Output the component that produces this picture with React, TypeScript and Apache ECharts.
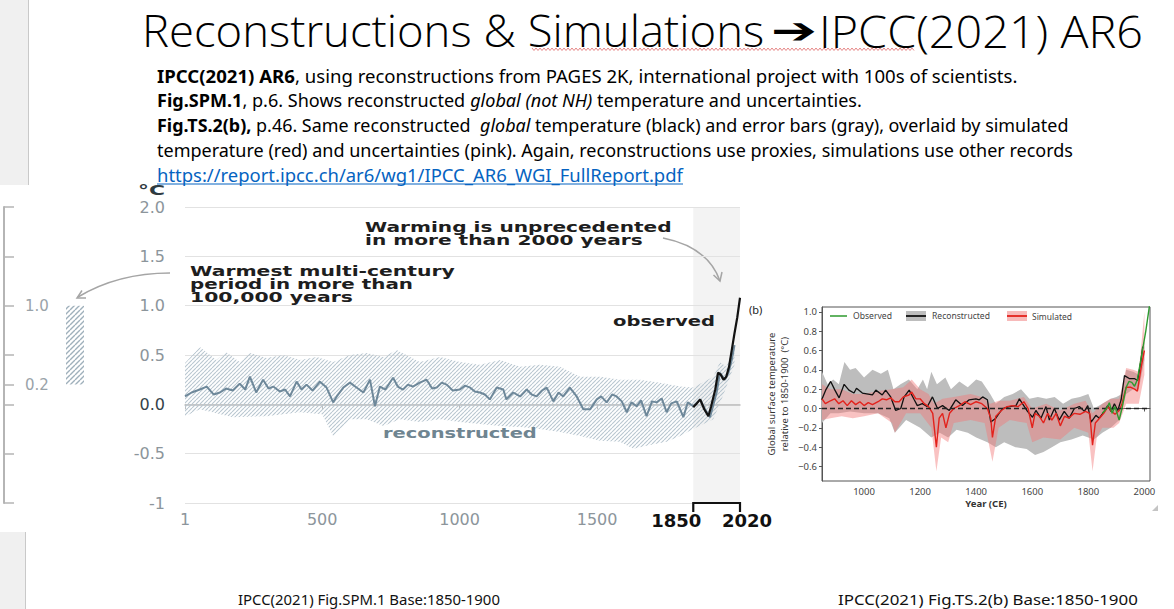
import React, { useEffect, useRef } from 'react';
import * as echarts from 'echarts';

// ---------------- Text content ----------------
const titleLeft = 'Reconstructions & Simulations';
const titleArrow = '➔';
const titleRight = 'IPCC(2021) AR6';

type Seg = [string, 'n' | 'b' | 'i'];
const paragraphLines: Seg[][] = [
  [['IPCC(2021) AR6', 'b'], [', using reconstructions from PAGES 2K, international project with 100s of scientists.', 'n']],
  [['Fig.SPM.1', 'b'], [', p.6. Shows reconstructed ', 'n'], ['global (not NH)', 'i'], [' temperature and uncertainties.', 'n']],
  [['Fig.TS.2(b),', 'b'], [' p.46. Same reconstructed  ', 'n'], ['global', 'i'], [' temperature (black) and error bars (gray), overlaid by simulated', 'n']],
  [['temperature (red) and uncertainties (pink). Again, reconstructions use proxies, simulations use other records', 'n']],
];
const linkText = 'https://report.ipcc.ch/ar6/wg1/IPCC_AR6_WGI_FullReport.pdf';
const captionSpm = 'IPCC(2021) Fig.SPM.1 Base:1850-1900';
const captionTs = 'IPCC(2021) Fig.TS.2(b) Base:1850-1900';
const noteWarmest = ['Warmest multi-century', 'period in more than', '100,000 years'];
const noteWarming = ['Warming is unprecedented', 'in more than 2000 years'];
const labelObserved = 'observed';
const labelReconstructed = 'reconstructed';
const tsLegend = ['Observed', 'Reconstructed', 'Simulated'];
const tsYName = 'Global surface temperature\nrelative to 1850-1900  (°C)';
const tsXName = 'Year (CE)';

// ---------------- Axis ticks ----------------
const sideTicks = [-1, -0.5, 0, 0.2, 0.5, 1, 1.5, 2];
const sideLabels = [0.2, 1.0];
const warmRange = [0.2, 1.0];
const spmXTicks = [1, 500, 1000, 1500];
const spmXLabels = [1, 500, 1000, 1500, 1850, 2020];
const modernPeriod = [1850, 2020];
const tsXTicks = [1000, 1200, 1400, 1600, 1800, 2000];
const tsYTicks = [-0.6, -0.4, -0.2, 0, 0.2, 0.4, 0.6, 0.8, 1.0];

// ---------------- SPM.1 data ----------------
const spmRecon: [number, number][] = [
  [1, 0.08], [25, 0.12], [55, 0.15], [80, 0.18], [105, 0.1], [128, 0.12], [150, 0.16], [175, 0.14],
  [200, 0.21], [220, 0.15], [237, 0.28], [260, 0.12], [285, 0.25], [305, 0.16], [322, 0.18], [346, 0.13],
  [365, 0.15], [383, 0.08], [407, 0.23], [425, 0.15], [443, 0.2], [465, 0.14], [492, 0.23], [516, 0.17],
  [540, 0.02], [553, 0.08], [577, 0.17], [601, 0.22], [625, 0.17], [650, 0.12], [674, 0.25], [692, -0.02],
  [710, 0.18], [730, 0.15], [758, 0.27], [775, 0.18], [794, 0.15], [812, 0.2], [830, 0.18], [855, 0.22],
  [880, 0.25], [900, 0.16], [917, 0.17], [935, 0.22], [953, 0.2], [975, 0.14], [1001, 0.15], [1020, 0.19],
  [1038, 0.17], [1055, 0.13], [1074, 0.12], [1092, 0.1], [1110, 0.05], [1135, 0.17], [1159, 0.15], [1170, 0.05],
  [1195, 0.12], [1220, 0.08], [1244, 0.15], [1262, 0.1], [1280, 0.08], [1300, 0.14], [1317, 0.17], [1341, 0.03],
  [1360, 0.12], [1377, 0.08], [1401, 0.17], [1426, 0.08], [1450, -0.05], [1475, -0.05], [1499, 0.05], [1515, 0.08],
  [1535, 0.02], [1555, 0.1], [1571, 0.08], [1590, 0.03], [1608, -0.08], [1625, 0.02], [1644, -0.02], [1660, 0.04],
  [1680, -0.12], [1700, 0.03], [1717, 0.02], [1735, 0.06], [1753, -0.08], [1770, 0.01], [1790, 0.03], [1814, -0.13],
  [1830, 0.02], [1850, -0.02], [1875, 0.05], [1893, -0.05], [1911, -0.13], [1935, 0.12], [1947, 0.32], [1965, 0.25],
  [1978, 0.32], [1990, 0.45], [2000, 0.6],
];
const spmUpper: [number, number][] = [
  [1, 0.42], [55, 0.58], [115, 0.45], [150, 0.53], [200, 0.43], [237, 0.52], [298, 0.47], [358, 0.5], [419, 0.45],
  [480, 0.48], [540, 0.43], [601, 0.5], [662, 0.52], [723, 0.48], [771, 0.55], [855, 0.43], [929, 0.48], [1001, 0.43],
  [1074, 0.4], [1147, 0.45], [1220, 0.38], [1292, 0.4], [1365, 0.38], [1438, 0.28], [1511, 0.28], [1583, 0.25],
  [1656, 0.25], [1729, 0.22], [1802, 0.18], [1850, 0.17], [1923, 0.28], [1947, 0.43], [1970, 0.38], [2000, 0.6],
];
const spmLower: [number, number][] = [
  [1, -0.12], [55, -0.05], [175, -0.13], [298, -0.12], [419, -0.08], [500, -0.1], [540, -0.32], [601, -0.15],
  [662, -0.15], [723, -0.22], [782, -0.15], [855, -0.18], [929, -0.15], [1001, -0.18], [1074, -0.2], [1147, -0.22],
  [1220, -0.23], [1292, -0.25], [1365, -0.28], [1438, -0.32], [1511, -0.37], [1583, -0.38], [1632, -0.45],
  [1680, -0.42], [1753, -0.38], [1802, -0.32], [1850, -0.25], [1923, -0.15], [1960, 0.1], [2000, 0.4],
];
const spmObserved: [number, number][] = [
  [1850, -0.03], [1860, 0.0], [1875, 0.05], [1890, -0.05], [1905, -0.12], [1915, -0.02], [1930, 0.15], [1940, 0.32],
  [1950, 0.3], [1960, 0.25], [1970, 0.28], [1980, 0.38], [1990, 0.55], [2000, 0.72], [2010, 0.88], [2020, 1.08],
];

// ---------------- TS.2(b) data ----------------
const tsRecon: [number, number][] = [
  [849, 0.09], [863, 0.19], [881, 0.28], [896, 0.19], [911, 0.11], [929, 0.25], [946, 0.19], [964, 0.16], [973, 0.21],
  [994, 0.16], [1030, 0.14], [1042, 0.19], [1065, 0.14], [1077, 0.19], [1095, 0.12], [1113, -0.02], [1131, 0.0],
  [1143, 0.12], [1161, 0.19], [1179, 0.09], [1190, 0.03], [1208, 0.05], [1226, 0.02], [1244, 0.12], [1262, 0.0],
  [1280, 0.03], [1304, -0.02], [1327, 0.09], [1351, 0.03], [1375, 0.09], [1399, 0.1], [1411, 0.09], [1423, 0.12],
  [1440, 0.09], [1452, -0.14], [1470, -0.1], [1494, 0.0], [1518, 0.02], [1542, 0.03], [1554, 0.1], [1565, 0.05],
  [1583, -0.03], [1601, -0.09], [1613, -0.02], [1631, -0.1], [1649, 0.02], [1661, -0.12], [1679, 0.0], [1696, -0.12],
  [1714, -0.03], [1732, -0.1], [1750, 0.0], [1768, 0.02], [1786, -0.03], [1798, 0.03], [1810, -0.14], [1827, -0.07],
  [1839, -0.1], [1857, -0.03], [1869, 0.03], [1881, -0.03], [1893, 0.05], [1905, -0.02], [1917, 0.09], [1929, 0.34],
  [1946, 0.31], [1964, 0.31], [1976, 0.29], [1988, 0.5], [1994, 0.64],
];
const tsSim: [number, number][] = [
  [850, 0.1], [862, 0.05], [880, 0.08], [895, 0.1], [910, 0.05], [925, 0.08], [940, 0.03], [955, 0.08], [970, 0.04],
  [985, 0.07], [1000, 0.03], [1015, 0.06], [1030, 0.04], [1050, 0.07], [1065, 0.1], [1080, 0.09], [1095, 0.11],
  [1110, 0.07], [1125, 0.07], [1140, 0.12], [1160, 0.14], [1170, 0.17], [1185, 0.1], [1200, 0.1], [1215, 0.05],
  [1230, 0.02], [1245, -0.05], [1258, -0.4], [1268, -0.1], [1280, -0.05], [1292, -0.2], [1305, -0.05], [1320, 0.0],
  [1340, 0.03], [1360, 0.07], [1380, 0.04], [1400, 0.07], [1420, 0.05], [1440, 0.0], [1452, -0.1], [1458, -0.3],
  [1470, -0.08], [1490, -0.02], [1510, 0.02], [1530, 0.03], [1550, 0.02], [1570, 0.07], [1585, 0.0], [1600, -0.2],
  [1610, -0.05], [1625, -0.08], [1640, -0.15], [1655, -0.05], [1670, -0.12], [1685, -0.05], [1700, -0.18],
  [1715, -0.08], [1730, -0.1], [1750, -0.05], [1770, -0.06], [1790, -0.03], [1805, -0.05], [1815, -0.38],
  [1825, -0.15], [1840, -0.1], [1855, -0.05], [1870, 0.02], [1880, -0.02], [1895, -0.06], [1910, -0.02], [1920, 0.05],
  [1935, 0.22], [1950, 0.22], [1965, 0.2], [1975, 0.18], [1990, 0.45], [2000, 0.6],
];
const tsObs: [number, number][] = [
  [1850, -0.05], [1865, 0.0], [1875, 0.06], [1885, -0.05], [1895, 0.02], [1910, -0.12], [1920, 0.0], [1935, 0.22],
  [1945, 0.28], [1955, 0.27], [1965, 0.23], [1975, 0.3], [1990, 0.55], [2005, 0.8], [2020, 1.1],
];
const tsReconUpper: [number, number][] = [
  [850, 0.38], [870, 0.25], [890, 0.3], [910, 0.25], [930, 0.48], [950, 0.4], [970, 0.42], [1000, 0.32], [1030, 0.4],
  [1060, 0.36], [1085, 0.4], [1105, 0.2], [1130, 0.25], [1160, 0.3], [1190, 0.2], [1210, 0.3], [1225, 0.2],
  [1240, 0.38], [1260, 0.25], [1290, 0.32], [1310, 0.2], [1340, 0.28], [1370, 0.22], [1400, 0.3], [1420, 0.28],
  [1450, 0.15], [1470, 0.05], [1500, 0.12], [1530, 0.15], [1560, 0.2], [1590, 0.1], [1620, 0.12], [1650, 0.1],
  [1680, 0.12], [1710, 0.05], [1740, 0.1], [1770, 0.12], [1800, 0.15], [1820, 0.0], [1850, 0.05], [1880, 0.1],
  [1900, 0.12], [1920, 0.15], [1935, 0.4], [1960, 0.38], [1980, 0.35], [2000, 0.7],
];
const tsReconLower: [number, number][] = [
  [850, -0.15], [880, -0.05], [910, -0.05], [950, -0.03], [1000, -0.05], [1050, -0.05], [1090, -0.1], [1110, -0.25],
  [1150, -0.12], [1200, -0.2], [1240, -0.3], [1270, -0.25], [1300, -0.3], [1330, -0.22], [1370, -0.25], [1400, -0.3],
  [1440, -0.35], [1470, -0.4], [1500, -0.35], [1540, -0.4], [1580, -0.42], [1610, -0.48], [1640, -0.45], [1670, -0.4],
  [1700, -0.35], [1740, -0.32], [1780, -0.28], [1820, -0.32], [1850, -0.25], [1880, -0.2], [1910, -0.12], [1935, 0.15],
  [1960, 0.2], [1980, 0.2], [2000, 0.5],
];
const tsSimUpper: [number, number][] = [
  [850, 0.25], [880, 0.2], [920, 0.2], [960, 0.15], [1000, 0.15], [1050, 0.18], [1100, 0.2], [1140, 0.22], [1170, 0.3],
  [1200, 0.2], [1230, 0.15], [1250, 0.05], [1280, 0.1], [1320, 0.12], [1380, 0.15], [1420, 0.12], [1450, 0.05],
  [1480, 0.08], [1520, 0.08], [1570, 0.12], [1600, 0.0], [1650, 0.05], [1700, -0.02], [1750, 0.05], [1790, 0.08],
  [1815, -0.05], [1850, 0.05], [1880, 0.1], [1910, 0.1], [1935, 0.42], [1960, 0.4], [1980, 0.38], [2000, 1.0],
];
const tsSimLower: [number, number][] = [
  [850, -0.12], [880, -0.1], [920, -0.08], [960, -0.1], [1000, -0.08], [1050, -0.05], [1100, -0.15], [1110, -0.25],
  [1150, -0.05], [1200, -0.05], [1240, -0.2], [1258, -0.65], [1275, -0.3], [1300, -0.35], [1320, -0.15], [1380, -0.12],
  [1430, -0.15], [1458, -0.55], [1480, -0.2], [1520, -0.12], [1580, -0.15], [1600, -0.35], [1640, -0.3], [1700, -0.32],
  [1750, -0.2], [1800, -0.25], [1815, -0.65], [1830, -0.3], [1850, -0.2], [1890, -0.2], [1910, -0.15], [1935, 0.05],
  [1960, 0.05], [1980, 0.05], [2000, 0.35],
];

// ---------------- helpers ----------------
const FAM_P = '"Noto Sans"';
const FAM_G = '"DejaVu Sans"';
let mctx: CanvasRenderingContext2D | null = null;
function measure(text: string, font: string): number {
  if (!mctx) mctx = document.createElement('canvas').getContext('2d');
  mctx!.font = font;
  return mctx!.measureText(text).width;
}
function fontStr(size: number, weight = 'normal', style = 'normal', fam = FAM_P) {
  return `${style} ${weight} ${size}px ${fam}`;
}
function fittedText(
  x: number, y: number, text: string, size: number,
  opts: { weight?: string; style?: string; family?: string; fill?: string; target?: number; scale?: number; z?: number } = {}
) {
  const family = opts.family ?? FAM_P;
  const weight = opts.weight ?? 'normal';
  const fstyle = opts.style ?? 'normal';
  let sx = opts.scale ?? 1;
  if (opts.target) sx = opts.target / measure(text, fontStr(size, weight, fstyle, family));
  return {
    type: 'text', x, y, scaleX: sx, z: opts.z ?? 10, silent: true,
    style: {
      text, fontSize: size, fontFamily: family, fontWeight: weight, fontStyle: fstyle,
      fill: opts.fill ?? '#000', align: 'left', verticalAlign: 'middle',
    },
  };
}
function richLine(x: number, y: number, segs: Seg[], size: number, target: number, fill: string) {
  const rich = {
    n: { fontSize: size, fontFamily: FAM_P, fill },
    b: { fontSize: size, fontFamily: FAM_P, fontWeight: 'bold', fill },
    i: { fontSize: size, fontFamily: FAM_P, fontStyle: 'italic', fill },
  };
  let w = 0;
  for (const [t, k] of segs) w += measure(t, fontStr(size, k === 'b' ? 'bold' : 'normal', k === 'i' ? 'italic' : 'normal'));
  const text = segs.map(([t, k]) => `{${k}|${t}}`).join('');
  return {
    type: 'text', x, y, scaleX: target / w, z: 10, silent: true,
    style: { text, rich, fontSize: size, fontFamily: FAM_P, fill, align: 'left', verticalAlign: 'middle' },
  };
}
function makeHatch(stroke: string, size: number, lw: number) {
  const c = document.createElement('canvas');
  c.width = size;
  c.height = size;
  const g = c.getContext('2d')!;
  g.strokeStyle = stroke;
  g.lineWidth = lw;
  g.beginPath();
  for (let k = -size; k <= size; k += size) {
    g.moveTo(k, size);
    g.lineTo(k + size, 0);
  }
  g.stroke();
  return { image: c.toDataURL(), repeat: 'repeat', imageWidth: size, imageHeight: size };
}
function bandSeries(upper: [number, number][], lower: [number, number][], gridAxis: number, fill: any, z: number) {
  return {
    type: 'custom', xAxisIndex: gridAxis, yAxisIndex: gridAxis, z, silent: true, clip: true,
    data: [0],
    renderItem: (_p: any, api: any) => {
      const pts = upper.map((p) => api.coord(p));
      for (let k = lower.length - 1; k >= 0; k--) pts.push(api.coord(lower[k]));
      return { type: 'polygon', shape: { points: pts }, style: { fill } };
    },
  };
}

function buildOption() {
  const hatchDark = makeHatch('#9fb0bb', 5, 1.4);
  const hatchBand = makeHatch('#b9c7d0', 4, 1.1);

  const wave: number[][] = [];
  for (let x = 532, k = 0; x <= 915; x += 2, k++) wave.push([x, k % 2 === 0 ? 48 : 50.5]);

  const graphic: any[] = [
    { type: 'rect', shape: { x: 0, y: 0, width: 28, height: 185 }, style: { fill: '#f0f0f0' }, silent: true, z: 0 },
    { type: 'line', shape: { x1: 28.5, y1: 0, x2: 28.5, y2: 185 }, style: { stroke: '#c9c9c9', lineWidth: 1 }, silent: true },
    { type: 'rect', shape: { x: 0, y: 532, width: 25, height: 77 }, style: { fill: '#f0f0f0' }, silent: true, z: 0 },
    { type: 'line', shape: { x1: 25.5, y1: 532, x2: 25.5, y2: 609 }, style: { stroke: '#c9c9c9', lineWidth: 1 }, silent: true },
    // title
    fittedText(142, 30, titleLeft, 45, { weight: '300', family: '"Open Sans"', target: 622 }),
    fittedText(771, 31, titleArrow, 36, { weight: 'bold', family: FAM_G, target: 46 }),
    fittedText(819, 30, titleRight, 45, { weight: '300', family: '"Open Sans"', target: 324 }),
    { type: 'polyline', shape: { points: wave }, style: { stroke: '#e06a6a', lineWidth: 0.8, fill: 'none' }, silent: true },
    // paragraph
    richLine(157, 76, paragraphLines[0], 18, 861, '#000'),
    richLine(157, 100, paragraphLines[1], 18, 705, '#000'),
    richLine(157, 125, paragraphLines[2], 18, 912, '#000'),
    richLine(157, 150, paragraphLines[3], 18, 916, '#000'),
    fittedText(157, 175, linkText, 18, { fill: '#0563c1', target: 526 }),
    { type: 'line', shape: { x1: 157, y1: 184, x2: 683, y2: 184 }, style: { stroke: '#0563c1', lineWidth: 1 }, silent: true },
    // SPM annotations
    fittedText(138, 190, '°C', 14, { weight: 'bold', family: FAM_G, fill: '#2f3a40', target: 27 }),
    fittedText(190, 271, noteWarmest[0], 13.5, { weight: 'bold', family: FAM_G, fill: '#1e1e1e', target: 265 }),
    fittedText(190, 284, noteWarmest[1], 13.5, { weight: 'bold', family: FAM_G, fill: '#1e1e1e', target: 223 }),
    fittedText(190, 297, noteWarmest[2], 13.5, { weight: 'bold', family: FAM_G, fill: '#1e1e1e', target: 163 }),
    fittedText(365, 227, noteWarming[0], 13.5, { weight: 'bold', family: FAM_G, fill: '#1e1e1e', target: 307 }),
    fittedText(365, 240, noteWarming[1], 13.5, { weight: 'bold', family: FAM_G, fill: '#1e1e1e', target: 278 }),
    fittedText(613, 321, labelObserved, 14, { weight: 'bold', family: FAM_G, fill: '#1e1e1e', target: 102 }),
    fittedText(383, 433, labelReconstructed, 14, { weight: 'bold', family: FAM_G, fill: '#6f8591', target: 154 }),
    { type: 'bezierCurve', shape: { x1: 170, y1: 273, x2: 78, y2: 297, cpx1: 118, cpy1: 273 }, style: { stroke: '#a5a5a5', lineWidth: 1.5, fill: 'none' }, silent: true },
    { type: 'polyline', shape: { points: [[86, 298], [77, 298], [82, 290.5]] }, style: { stroke: '#a5a5a5', lineWidth: 1.5, fill: 'none' }, silent: true },
    { type: 'bezierCurve', shape: { x1: 663, y1: 238, x2: 720, y2: 281, cpx1: 708, cpy1: 247 }, style: { stroke: '#a5a5a5', lineWidth: 1.5, fill: 'none' }, silent: true },
    { type: 'polyline', shape: { points: [[722, 272], [720, 281], [713.5, 275]] }, style: { stroke: '#a5a5a5', lineWidth: 1.5, fill: 'none' }, silent: true },
    // TS extras
    fittedText(749, 309, '(b)', 11, { fill: '#222', family: FAM_P }),
    { type: 'line', shape: { x1: 830, y1: 316, x2: 847, y2: 316 }, style: { stroke: '#2e9a2e', lineWidth: 1.5 }, silent: true },
    fittedText(853, 316, tsLegend[0], 8.5, { fill: '#444', family: FAM_P, target: 39 }),
    { type: 'rect', shape: { x: 906, y: 311, width: 20, height: 10 }, style: { fill: '#bdbdbd' }, silent: true },
    { type: 'line', shape: { x1: 906, y1: 316, x2: 926, y2: 316 }, style: { stroke: '#111', lineWidth: 1.8 }, silent: true },
    fittedText(932, 316, tsLegend[1], 8.5, { fill: '#444', family: FAM_P, target: 58 }),
    { type: 'rect', shape: { x: 1007, y: 311, width: 20, height: 10 }, style: { fill: 'rgba(242,140,140,0.6)' }, silent: true },
    { type: 'line', shape: { x1: 1007, y1: 316, x2: 1027, y2: 316 }, style: { stroke: '#e3221c', lineWidth: 1.8 }, silent: true },
    fittedText(1032, 316, tsLegend[2], 8.5, { fill: '#444', family: FAM_P, target: 40 }),
    { type: 'polygon', shape: { points: [[1158, 505], [1158, 511], [1152, 511]] }, style: { fill: '#c4c4c4' }, silent: true },
    // captions
    fittedText(238, 600, captionSpm, 14, { fill: '#111', target: 262 }),
    fittedText(838, 600, captionTs, 14, { fill: '#111', target: 300 }),
  ];

  return {
    animation: false,
    backgroundColor: '#ffffff',
    textStyle: { fontFamily: FAM_G },
    graphic,
    grid: [
      { left: 48, top: 207, width: 54, height: 296 },
      { left: 185, top: 207, width: 555, height: 296 },
      { left: 822, top: 307, width: 328, height: 174, show: true, borderColor: '#555', borderWidth: 1, backgroundColor: 'transparent' },
    ],
    xAxis: [
      { gridIndex: 0, type: 'category', data: ['warm'], show: false },
      {
        gridIndex: 1, type: 'value', min: 1, max: 2020,
        axisLine: { show: true, lineStyle: { color: '#bdbdbd', width: 1.5 } },
        axisTick: { show: true, customValues: spmXTicks, length: 5, lineStyle: { color: '#bdbdbd' } },
        axisLabel: {
          customValues: spmXLabels, margin: 8, fontSize: 16, color: '#8c959b', fontFamily: FAM_G,
          showMinLabel: true, showMaxLabel: true, hideOverlap: false,
          formatter: (v: number) => (v === 1850 ? `{k|${v}}` : v === 2020 ? `{m|${v}}` : `${v}`),
          rich: {
            k: { fontSize: 18, fontWeight: 'bold', color: '#111', fontFamily: FAM_G, padding: [0, 34, 0, 0] },
            m: { fontSize: 18, fontWeight: 'bold', color: '#111', fontFamily: FAM_G, padding: [0, 0, 0, 14] },
          },
        },
        splitLine: { show: false },
      },
      {
        gridIndex: 2, type: 'value', min: 850, max: 2020,
        name: tsXName, nameLocation: 'middle', nameGap: 17,
        nameTextStyle: { fontWeight: 'bold', fontSize: 9.5, fontFamily: FAM_P, color: '#333' },
        axisLine: { show: true, lineStyle: { color: '#555' } },
        axisTick: { show: true, customValues: tsXTicks, length: 3, lineStyle: { color: '#555' } },
        axisLabel: { customValues: tsXTicks, margin: 5, fontSize: 9.5, fontFamily: FAM_P, color: '#444', formatter: (v: number) => String(v) },
        splitLine: { show: false },
      },
    ],
    yAxis: [
      {
        gridIndex: 0, type: 'value', min: -1, max: 2, offset: 44,
        axisLine: { show: true, lineStyle: { color: '#b5b5b5', width: 2 } },
        axisTick: { show: true, inside: true, length: 10, customValues: sideTicks, lineStyle: { color: '#b5b5b5', width: 1.5 } },
        axisLabel: { inside: true, customValues: sideLabels, margin: 21, fontSize: 15, color: '#9aa3a9', formatter: (v: number) => v.toFixed(1) },
        splitLine: { show: false },
      },
      {
        gridIndex: 1, type: 'value', min: -1, max: 2, interval: 0.5,
        axisLine: { show: false }, axisTick: { show: false },
        axisLabel: {
          margin: 20, fontSize: 16, color: '#8c959b', fontFamily: FAM_G,
          formatter: (v: number) => (v === 0 ? '{z|0.0}' : v === -1 ? '-1' : v.toFixed(1)),
          rich: { z: { fontSize: 16, color: '#34424a', fontFamily: FAM_G } },
        },
        splitLine: { show: true, lineStyle: { color: '#e2e2e2', width: 1 } },
      },
      {
        gridIndex: 2, type: 'value', min: -0.75, max: 1.05,
        name: tsYName, nameLocation: 'middle', nameGap: 31, nameRotate: 90,
        nameTextStyle: { fontSize: 9.5, fontFamily: FAM_P, color: '#333', lineHeight: 13, align: 'center' },
        axisLine: { show: true, lineStyle: { color: '#555' } },
        axisTick: { show: true, customValues: tsYTicks, length: 3, lineStyle: { color: '#555' } },
        axisLabel: {
          customValues: tsYTicks, margin: 5, fontSize: 9.5, fontFamily: FAM_P, color: '#444',
          formatter: (v: number) => (v < 0 ? '\u2212' : '') + Math.abs(v).toFixed(1),
        },
        splitLine: { show: false },
      },
    ],
    series: [
      { type: 'bar', xAxisIndex: 0, yAxisIndex: 0, stack: 'warm', barWidth: 18, silent: true, data: [warmRange[0]], itemStyle: { color: 'rgba(0,0,0,0)' } },
      { type: 'bar', xAxisIndex: 0, yAxisIndex: 0, stack: 'warm', barWidth: 18, silent: true, data: [warmRange[1] - warmRange[0]], itemStyle: { color: hatchDark } },
      {
        type: 'custom', xAxisIndex: 1, yAxisIndex: 1, z: -1, silent: true, data: [0],
        renderItem: (_p: any, api: any) => {
          const a = api.coord([modernPeriod[0], 2]);
          const b = api.coord([modernPeriod[1], -1]);
          return { type: 'rect', shape: { x: a[0], y: a[1], width: b[0] - a[0], height: b[1] - a[1] }, style: { fill: '#f3f3f3' } };
        },
      },
      bandSeries(spmUpper, spmLower, 1, hatchBand, 1),
      { type: 'line', xAxisIndex: 1, yAxisIndex: 1, z: 2, silent: true, symbol: 'none', data: spmRecon, lineStyle: { color: '#6e889a', width: 2 } },
      { type: 'line', xAxisIndex: 1, yAxisIndex: 1, z: 3, silent: true, symbol: 'none', data: spmObserved, lineStyle: { color: '#111', width: 2.2 } },
      {
        type: 'custom', xAxisIndex: 1, yAxisIndex: 1, z: 4, silent: true, data: [0], clip: false,
        renderItem: (_p: any, api: any) => {
          const a = api.coord([modernPeriod[0], -1]);
          const b = api.coord([modernPeriod[1], -1]);
          return {
            type: 'polyline',
            shape: { points: [[a[0], a[1] + 9], [a[0], a[1]], [b[0], b[1]], [b[0], b[1] + 9]] },
            style: { stroke: '#111', lineWidth: 2.2, fill: 'none' },
          };
        },
      },
      bandSeries(tsReconUpper, tsReconLower, 2, '#bdbdbd', 1),
      bandSeries(tsSimUpper, tsSimLower, 2, 'rgba(242,120,120,0.45)', 2),
      {
        type: 'line', xAxisIndex: 2, yAxisIndex: 2, z: 3, silent: true, symbol: 'none', data: tsRecon,
        lineStyle: { color: '#111', width: 1.3 },
        markLine: {
          silent: true, symbol: 'none', label: { show: false },
          lineStyle: { color: '#222', type: [5, 3], width: 1.3 },
          data: [{ yAxis: 0 }],
        },
      },
      { type: 'line', xAxisIndex: 2, yAxisIndex: 2, z: 4, silent: true, symbol: 'none', data: tsSim, lineStyle: { color: '#e3221c', width: 1.4 } },
      { type: 'line', xAxisIndex: 2, yAxisIndex: 2, z: 5, silent: true, symbol: 'none', data: tsObs, lineStyle: { color: '#2e9a2e', width: 1.4 } },
    ],
  };
}

export default function App() {
  const ref = useRef<HTMLDivElement>(null);
  useEffect(() => {
    if (!ref.current) return;
    const chart = echarts.init(ref.current, null, { renderer: 'svg' });
    chart.setOption(buildOption() as any);
    return () => chart.dispose();
  }, []);
  return (
    <div
      ref={ref}
      style={{ position: 'fixed', left: 0, top: 0, width: 1174, height: 609, background: '#fff' }}
    />
  );
}
